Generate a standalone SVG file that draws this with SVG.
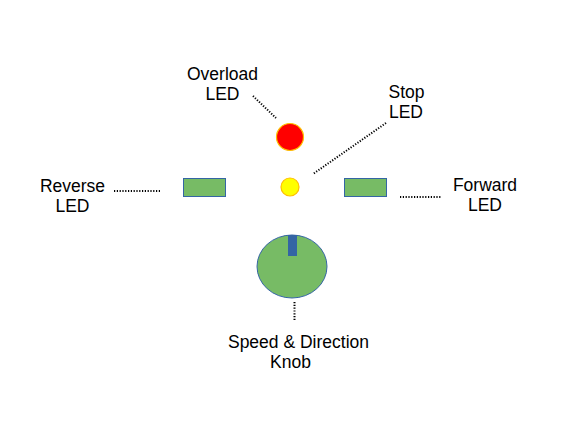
<svg xmlns="http://www.w3.org/2000/svg" width="581" height="423" viewBox="0 0 581 423">
<style>
text{font-family:"Liberation Sans",Arial,sans-serif;font-size:17.5px;fill:#000;text-anchor:middle}
.dot{stroke:#000;stroke-width:2;stroke-dasharray:1.2 1.6;fill:none}
.led{fill:#77bb65;stroke:#3465a4;stroke-width:1}
</style>
<rect width="581" height="423" fill="#fff"/>
<g id="overload-led">
<circle cx="290" cy="137" r="13.5" fill="#ff0000" stroke="#ffc000" stroke-width="1.2"/>
<text x="222.5" y="80">Overload</text>
<text x="222.5" y="99.5">LED</text>
</g>
<g id="stop-led">
<circle cx="290" cy="187" r="9" fill="#ffff00" stroke="#ffc000" stroke-width="1.2"/>
<text x="406.5" y="98">Stop</text>
<text x="406" y="118">LED</text>
</g>
<g id="reverse-led">
<rect class="led" x="183.5" y="178.5" width="42" height="18"/>
<text x="72.5" y="192">Reverse</text>
<text x="72.5" y="212">LED</text>
</g>
<g id="forward-led">
<rect class="led" x="344.5" y="178.5" width="42" height="18"/>
<text x="485" y="191">Forward</text>
<text x="485" y="211">LED</text>
</g>
<g id="knob">
<ellipse cx="292" cy="266.5" rx="35" ry="31.5" fill="#77bb65" stroke="#3465a4" stroke-width="1"/>
<rect x="288" y="235" width="9" height="21" fill="#3465a4"/>
<text x="298.5" y="348">Speed &amp; Direction</text>
<text x="290.5" y="368">Knob</text>
</g>
<g id="connectors">
<line class="dot" x1="253" y1="96" x2="276" y2="118"/>
<line class="dot" x1="386" y1="123" x2="313" y2="174"/>
<line class="dot" x1="114" y1="191" x2="161" y2="191"/>
<line class="dot" x1="400" y1="197" x2="441" y2="197"/>
<line class="dot" x1="294.5" y1="302" x2="294.5" y2="320"/>
</g>
</svg>
